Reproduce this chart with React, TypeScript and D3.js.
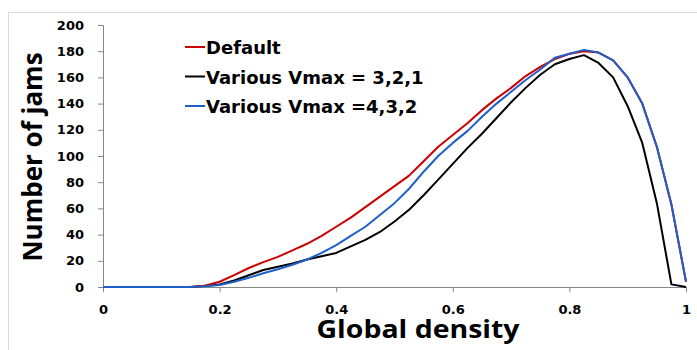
import React, { useEffect, useRef } from 'react';
import * as d3 from 'd3';

// densities sampled every 0.025
const density = [
  0, 0.025, 0.05, 0.075, 0.1, 0.125, 0.15, 0.175, 0.2, 0.225, 0.25, 0.275, 0.3, 0.325, 0.35, 0.375,
  0.4, 0.425, 0.45, 0.475, 0.5, 0.525, 0.55, 0.575, 0.6, 0.625, 0.65, 0.675, 0.7, 0.725, 0.75, 0.775,
  0.8, 0.825, 0.85, 0.875, 0.9, 0.925, 0.95, 0.975, 1,
];
const defaultJams = [
  0, 0, 0, 0, 0, 0, 0, 1, 4, 9, 14.5, 19, 23, 28, 33, 39,
  46, 53, 61, 69, 77, 85, 96, 107, 116, 125, 135, 144, 152, 161, 168, 174,
  178, 180, 179, 173, 160, 140, 107, 63, 4,
];
const vmax321 = [
  0, 0, 0, 0, 0, 0, 0, 1, 2, 5, 9, 13, 15.5, 18, 21, 23.5,
  26, 31, 36, 42, 50, 59, 70, 82, 94, 106, 117, 129, 141, 152, 162, 170,
  174, 177, 171, 160, 138, 110, 64, 2, 0,
];
const vmax432 = [
  0, 0, 0, 0, 0, 0, 0, 0.5, 1.5, 4, 7, 10.5, 13.5, 17, 21, 26,
  32, 39, 46, 55, 64, 75, 88, 100, 110, 119, 130, 140, 149, 158, 166, 175,
  178, 181, 179, 173, 160, 140, 107, 63, 4,
];
const seriesNames = ['Default', 'Various Vmax = 3,2,1', 'Various Vmax =4,3,2'];
const seriesColors = ['#cc0000', '#000000', '#1f5fc8'];
const xTicks = [0, 0.2, 0.4, 0.6, 0.8, 1];
const yTicks = [0, 20, 40, 60, 80, 100, 120, 140, 160, 180, 200];

const App = () => {
  const svgRef = useRef<SVGSVGElement>(null);

  useEffect(() => {
    const svg = d3.select(svgRef.current);
    svg.selectAll('*').remove();

    const x = d3.scaleLinear().domain([0, 1]).range([103, 686]);
    const y = d3.scaleLinear().domain([0, 200]).range([287, 25]);
    const tickFont = 'DejaVu Sans, Verdana, sans-serif';
    const titleFont = 'Open Sans, sans-serif';

    // light frame (only top and left are visible in the picture)
    svg.append('rect')
      .attr('x', 8.5).attr('y', 12.5)
      .attr('width', 720).attr('height', 360)
      .attr('fill', 'none').attr('stroke', '#d9d9d9');

    // axes
    const xAxis = svg.append('g')
      .attr('transform', `translate(0,${y(0)})`)
      .call(d3.axisBottom(x).tickValues(xTicks).tickSize(5).tickFormat(d => d3.format('')(d as number)));
    const yAxis = svg.append('g')
      .attr('transform', `translate(${x(0)},0)`)
      .call(d3.axisLeft(y).tickValues(yTicks).tickSize(5));

    [xAxis, yAxis].forEach(g => {
      g.select('.domain').attr('stroke', '#868686');
      g.selectAll('.tick line').attr('stroke', '#868686');
      g.selectAll('.tick text')
        .attr('fill', '#000')
        .attr('font-family', tickFont)
        .attr('font-weight', 'bold')
        .attr('font-size', 13);
    });
    xAxis.selectAll('.tick text').attr('dy', '1.45em');
    yAxis.selectAll('.tick text').attr('x', -19);

    // lines
    const allSeries = [defaultJams, vmax321, vmax432];
    const line = d3.line<number>()
      .x((_, i) => x(density[i]))
      .y(d => y(d));

    [vmax321, defaultJams, vmax432].forEach(s => {
      const idx = allSeries.indexOf(s);
      svg.append('path')
        .datum(s)
        .attr('d', line)
        .attr('fill', 'none')
        .attr('stroke', seriesColors[idx])
        .attr('stroke-width', 2)
        .attr('stroke-linejoin', 'round');
    });

    // legend
    const legend = svg.append('g').attr('transform', 'translate(185,47)');
    seriesNames.forEach((name, i) => {
      const row = legend.append('g').attr('transform', `translate(0,${i * 29.5})`);
      row.append('line')
        .attr('x1', 0).attr('x2', 20)
        .attr('stroke', seriesColors[i]).attr('stroke-width', 2);
      row.append('text')
        .attr('x', 21).attr('y', 7)
        .attr('font-family', tickFont)
        .attr('font-weight', 'bold')
        .attr('font-size', 18)
        .text(name);
    });

    // axis titles
    svg.append('text')
      .attr('x', 418).attr('y', 338)
      .attr('text-anchor', 'middle')
      .attr('font-family', titleFont)
      .attr('font-weight', 'bold')
      .attr('font-size', 25)
      .attr('textLength', 203)
      .attr('lengthAdjust', 'spacingAndGlyphs')
      .text('Global density');

    svg.append('text')
      .attr('transform', 'translate(42,157) rotate(-90)')
      .attr('text-anchor', 'middle')
      .attr('font-family', titleFont)
      .attr('font-weight', 'bold')
      .attr('font-size', 26)
      .text('Number of jams');
  }, []);

  return (
    <svg ref={svgRef} width={697} height={350}
      style={{ position: 'absolute', left: 0, top: 0, background: '#fff' }} />
  );
};

export default App;
